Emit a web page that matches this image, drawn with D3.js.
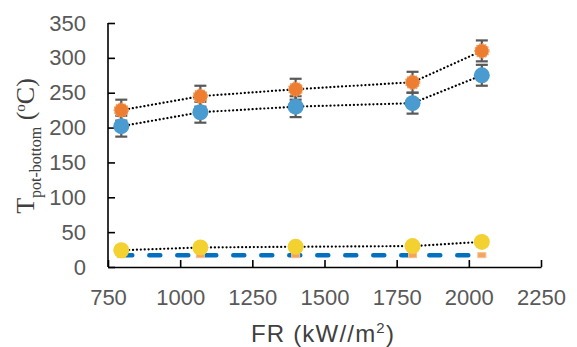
<!DOCTYPE html>
<html>
<head>
<meta charset="utf-8">
<script src="https://cdn.jsdelivr.net/npm/d3@7"></script>
<style>
  body { margin: 0; background: #fff; }
</style>
</head>
<body>
<div id="chart"></div>
<script>
// data
var fr = [796, 1070, 1400, 1805, 2045];
var orangeT = [225, 245, 255, 265, 310];
var blueT = [202, 222, 230, 235, 275];
var errT = [15, 15, 15, 15, 15];
var yellowT = [24, 28, 29, 30, 36];
var ambientT = [17, 17, 17, 17, 17];
var xTicks = [750, 1000, 1250, 1500, 1750, 2000, 2250];
var yTicks = [0, 50, 100, 150, 200, 250, 300, 350];

var attrs = {
  width: 577, height: 347,
  left: 108, right: 541, top: 23, bottom: 267,
  tickColor: '#595959',
  orange: '#ED7D31', blue: '#4A9BD0', yellow: '#F2D130', dash: '#0070C0'
};

var svg = d3.select('#chart').append('svg')
  .attr('width', attrs.width).attr('height', attrs.height)
  .attr('font-family', 'Liberation Sans, Arial, sans-serif');

var x = d3.scaleLinear().domain([750, 2250]).range([attrs.left, attrs.right]);
var y = d3.scaleLinear().domain([0, 350]).range([attrs.bottom, attrs.top]);

// axes, ticks pointing inward
var xAxis = svg.append('g').attr('transform', 'translate(0,' + attrs.bottom + ')')
  .call(d3.axisBottom(x).tickValues(xTicks).tickFormat(d3.format('d'))
    .tickSizeInner(-7).tickSizeOuter(0).tickPadding(22));
var yAxis = svg.append('g').attr('transform', 'translate(' + attrs.left + ',0)')
  .call(d3.axisLeft(y).tickValues(yTicks).tickFormat(d3.format('d'))
    .tickSizeInner(-7).tickSizeOuter(0).tickPadding(22));

[xAxis, yAxis].forEach(function (a) {
  a.select('.domain').attr('stroke', '#000').attr('stroke-width', 1.6);
  a.selectAll('.tick line').attr('stroke', '#000').attr('stroke-width', 1.6);
  a.selectAll('.tick text').attr('fill', attrs.tickColor).attr('font-size', 22)
    .attr('font-family', 'Liberation Sans, Arial, sans-serif');
});
// y axis line ends at the top tick
yAxis.select('.domain').attr('d', 'M0,' + attrs.bottom + 'V' + attrs.top);

var line = d3.line().x(function (d) { return x(d[0]); }).y(function (d) { return y(d[1]); });
function pairs(vals) { return fr.map(function (f, i) { return [f, vals[i]]; }); }

// blue dashed line at ambient
svg.append('path').datum(pairs(ambientT))
  .attr('d', line).attr('fill', 'none')
  .attr('stroke', attrs.dash).attr('stroke-width', 4.5)
  .attr('stroke-linecap', 'round').attr('stroke-dasharray', '11 17');

// small orange markers at ambient
svg.selectAll('.amb').data(pairs(ambientT)).enter().append('rect')
  .attr('x', function (d) { return x(d[0]) - 4; })
  .attr('y', function (d) { return y(d[1]) - 2.5; })
  .attr('width', 8).attr('height', 5)
  .attr('fill', '#F4A460').attr('stroke', '#F8C08A').attr('stroke-width', 1);

// dotted connecting lines
[orangeT, blueT, yellowT].forEach(function (vals) {
  svg.append('path').datum(pairs(vals))
    .attr('d', line).attr('fill', 'none')
    .attr('stroke', '#000').attr('stroke-width', 2.2)
    .attr('stroke-linecap', 'round').attr('stroke-dasharray', '0.1 3.8');
});

// error bars
[orangeT, blueT].forEach(function (vals) {
  var g = svg.append('g').attr('stroke', '#595959').attr('stroke-width', 2.2);
  fr.forEach(function (f, i) {
    var cx = x(f), y1 = y(vals[i] + errT[i]), y0 = y(vals[i] - errT[i]);
    g.append('line').attr('x1', cx).attr('x2', cx).attr('y1', y1).attr('y2', y0);
    g.append('line').attr('x1', cx - 6).attr('x2', cx + 6).attr('y1', y1).attr('y2', y1);
    g.append('line').attr('x1', cx - 6).attr('x2', cx + 6).attr('y1', y0).attr('y2', y0);
  });
});

// markers
svg.selectAll('.orangeDot').data(pairs(orangeT)).enter().append('circle')
  .attr('cx', function (d) { return x(d[0]); }).attr('cy', function (d) { return y(d[1]); })
  .attr('r', 7).attr('fill', attrs.orange)
  .attr('stroke', '#F19A5C').attr('stroke-width', 1.6).attr('stroke-dasharray', '1.5 1.5');
svg.selectAll('.blueDot').data(pairs(blueT)).enter().append('circle')
  .attr('cx', function (d) { return x(d[0]); }).attr('cy', function (d) { return y(d[1]); })
  .attr('r', 8).attr('fill', attrs.blue);
svg.selectAll('.yellowDot').data(pairs(yellowT)).enter().append('circle')
  .attr('cx', function (d) { return x(d[0]); }).attr('cy', function (d) { return y(d[1]); })
  .attr('r', 8).attr('fill', attrs.yellow);

// x title
var xt = svg.append('text').attr('x', 323).attr('y', 342)
  .attr('text-anchor', 'middle').attr('font-size', 24).attr('letter-spacing', 1.2)
  .attr('fill', '#404040');
xt.append('tspan').text('FR (kW//m');
xt.append('tspan').attr('font-size', 15).attr('dy', -9).text('2');
xt.append('tspan').attr('dy', 9).text(')');

// y title
var yt = svg.append('text')
  .attr('transform', 'translate(34,146) rotate(-90)')
  .attr('text-anchor', 'middle')
  .attr('font-family', 'Liberation Serif, Times New Roman, serif')
  .attr('font-size', 26).attr('fill', '#404040');
yt.append('tspan').text('T');
yt.append('tspan').attr('font-size', 16).attr('dy', 7).text('pot-bottom');
yt.append('tspan').attr('dy', -7).text(' (');
yt.append('tspan').attr('font-size', 15).attr('dy', -9).text('o');
yt.append('tspan').attr('dy', 9).text('C)');
</script>
</body>
</html>
